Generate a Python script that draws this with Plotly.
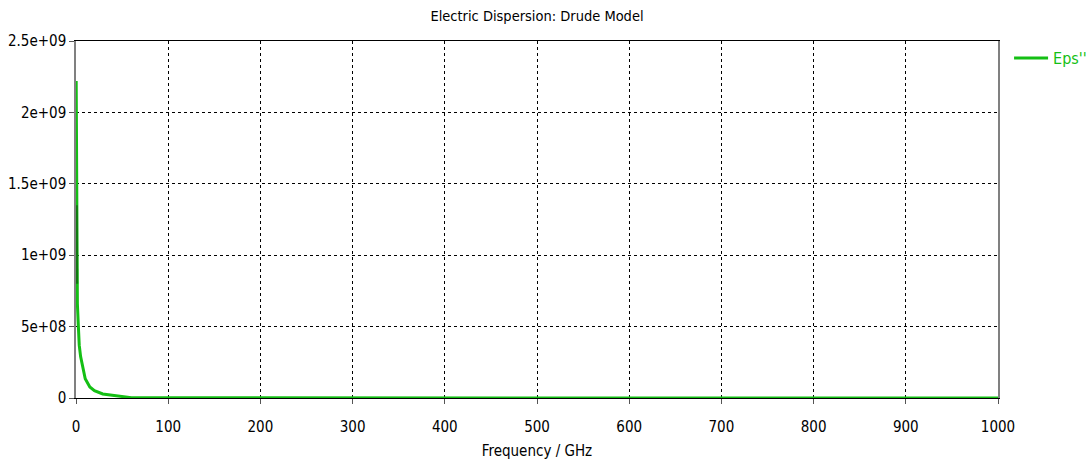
import plotly.graph_objects as go

# Drude-model imaginary permittivity, Eps'' versus frequency (GHz)
freq_ghz = [0.2, 0.6, 1.0, 1.5, 2.5, 3.5, 5.0, 7.3, 10.0, 15.0, 20.0, 29.0, 40.0, 50.0,
            60.0, 100.0, 200.0, 300.0, 400.0, 500.0, 600.0, 700.0, 800.0, 900.0, 1000.0]
eps_imag = [2.22e9, 1.35e9, 8.0e8, 6.6e8, 5.1e8, 3.7e8, 2.9e8, 2.17e8, 1.35e8, 7.7e7,
            5.2e7, 2.8e7, 1.9e7, 1.4e7,
            2.0e6, 1.3e6, 6.5e5, 4.3e5, 3.2e5, 2.6e5, 2.2e5, 1.9e5, 1.6e5, 1.4e5, 1.3e5]

# short stretch where the curve runs on top of the frequency axis origin
overlap_freq = [0.6, 1.0]
overlap_eps = [1.35e9, 8.0e8]

x_ticks = [0, 100, 200, 300, 400, 500, 600, 700, 800, 900, 1000]
y_ticks = [0, 5e8, 1e9, 1.5e9, 2e9, 2.5e9]
y_tick_text = ["0", "5e+08", "1e+09", "1.5e+09", "2e+09", "2.5e+09"]

GREEN = "#14bf14"
FONT = "DejaVu Sans Condensed, Liberation Sans Narrow, Arial Narrow, sans-serif"

fig = go.Figure()
fig.add_trace(go.Scatter(
    x=freq_ghz, y=eps_imag, mode="lines", name="Eps''",
    line=dict(color=GREEN, width=3),
))
fig.add_trace(go.Scatter(
    x=overlap_freq, y=overlap_eps, mode="lines", showlegend=False,
    line=dict(color="#0f7a0f", width=2.5), hoverinfo="skip",
))

fig.update_layout(
    width=1091, height=463,
    margin=dict(l=76, r=93, t=41, b=65, autoexpand=False),
    paper_bgcolor="white", plot_bgcolor="white",
    font=dict(family=FONT, size=14, color="#000000"),
    title=dict(text="Electric Dispersion: Drude Model", x=(76 + 998) / 2 / 1091,
               xanchor="center", y=1 - 16 / 463, yanchor="middle",
               font=dict(size=14.5, family=FONT)),
    legend=dict(x=1.012, y=1.0, xanchor="left", yanchor="top",
                font=dict(color=GREEN, size=16, family=FONT),
                bgcolor="rgba(0,0,0,0)", itemwidth=34),
    showlegend=True,
)

fig.update_xaxes(
    range=[0, 1000], tickvals=x_ticks,
    showgrid=True, gridcolor="black", gridwidth=1, griddash="3px,3px",
    showline=True, linecolor="black", linewidth=1, mirror=True,
    ticks="outside", ticklen=5, tickcolor="#555555",
    ticklabelstandoff=10,
    zeroline=False,
    title=dict(text="Frequency / GHz", font=dict(size=15, family=FONT), standoff=10),
    tickfont=dict(size=15, family=FONT),
)
fig.update_yaxes(
    range=[0, 2.5e9], tickvals=y_ticks, ticktext=y_tick_text,
    showgrid=True, gridcolor="black", gridwidth=1, griddash="3px,3px",
    showline=True, linecolor="#808080", linewidth=1.5, mirror=True,
    ticks="outside", ticklen=5, tickcolor="#555555",
    zeroline=False,
    tickfont=dict(size=15, family=FONT),
)

fig.write_html("out.html")
